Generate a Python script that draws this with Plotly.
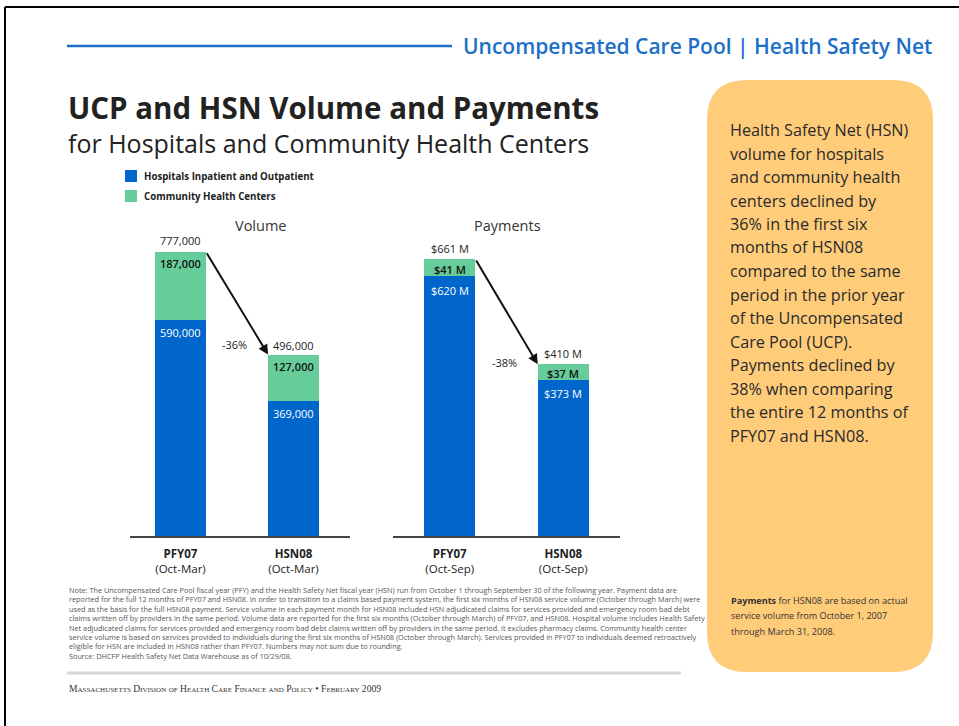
import plotly.graph_objects as go

# ---------------- data ----------------
periods_volume = ["<b>PFY07</b><br>(Oct-Mar)", "<b>HSN08</b><br>(Oct-Mar)"]
periods_payments = ["<b>PFY07</b><br>(Oct-Sep)", "<b>HSN08</b><br>(Oct-Sep)"]
volume_hospitals = [590000, 369000]
volume_chc = [187000, 127000]
volume_total = [777000, 496000]
payments_hospitals = [620, 373]   # $ millions
payments_chc = [41, 37]
payments_total = [661, 410]
series_names = ["Hospitals Inpatient and Outpatient", "Community Health Centers"]

BLUE = "#0066CC"
GREEN = "#66CC99"
ORANGE = "#FFCC7A"
HEADBLUE = "#1B6FC8"
DARK = "#222222"
FONT = "Open Sans"

W, H = 959, 726
def PX(x):
    return x / W
def PY(y):
    return 1 - y / H

fig = go.Figure()
xs = [0, 1]
BW = 0.45
fig.add_trace(go.Bar(x=xs, y=volume_hospitals, marker=dict(color=BLUE, line=dict(width=0)),
                     width=BW, name=series_names[0], xaxis="x", yaxis="y", showlegend=False))
fig.add_trace(go.Bar(x=xs, y=volume_chc, marker=dict(color=GREEN, line=dict(width=0)),
                     width=BW, name=series_names[1], xaxis="x", yaxis="y", showlegend=False))
fig.add_trace(go.Bar(x=xs, y=payments_hospitals, marker=dict(color=BLUE, line=dict(width=0)),
                     width=BW, name=series_names[0], xaxis="x2", yaxis="y2", showlegend=False))
fig.add_trace(go.Bar(x=xs, y=payments_chc, marker=dict(color=GREEN, line=dict(width=0)),
                     width=BW, name=series_names[1], xaxis="x2", yaxis="y2", showlegend=False))

ann = []
shapes = []

# --- bar labels ---
def seg_labels(xref, yref, hosp, chc, tot, fmt, yshift_tot, yshift_g, yshift_b):
    for i in range(2):
        ann.append(dict(x=xs[i], y=tot[i], xref=xref, yref=yref, text=fmt(tot[i]), showarrow=False,
                        yanchor="bottom", yshift=yshift_tot[i], font=dict(family=FONT, size=11, color=DARK)))
        ann.append(dict(x=xs[i], y=hosp[i] + chc[i], xref=xref, yref=yref, text=fmt(chc[i]), showarrow=False,
                        yanchor="top", yshift=yshift_g[i], font=dict(family=FONT, size=11, color="#111111", weight=600)))
        ann.append(dict(x=xs[i], y=hosp[i], xref=xref, yref=yref, text=fmt(hosp[i]), showarrow=False,
                        yanchor="top", yshift=yshift_b[i], font=dict(family=FONT, size=11, color="white")))

seg_labels("x", "y", volume_hospitals, volume_chc, volume_total, lambda v: f"{v:,}",
           [2, 0], [-2, -2], [-3, -3])
seg_labels("x2", "y2", payments_hospitals, payments_chc, payments_total, lambda v: f"${v} M",
           [1, 1], [-1, 0], [-5, -4])

# --- arrows and percentage change ---
def change_arrow(xref, yref, tot, xshift, yshift):
    ann.append(dict(x=xs[1] - BW / 2, y=tot[1], ax=xs[0] + BW / 2, ay=tot[0], xref=xref, yref=yref,
                    axref=xref, ayref=yref, text="", showarrow=True, arrowhead=2, arrowsize=1,
                    arrowwidth=2, arrowcolor="#111111", standoff=0, startstandoff=0))
    pct = round((tot[1] - tot[0]) / tot[0] * 100)
    ann.append(dict(x=0.5, y=tot[1], xref=xref, yref=yref, text=f"{pct}%", showarrow=False,
                    xshift=xshift, yshift=yshift, font=dict(family=FONT, size=11, color=DARK)))

change_arrow("x", "y", volume_total, -3, 10)
change_arrow("x2", "y2", payments_total, -2, 2)

# --- panel titles ---
ann.append(dict(x=PX(261), y=PY(226), xref="paper", yref="paper", xanchor="center", yanchor="middle",
                text="Volume", showarrow=False, font=dict(family=FONT, size=14.5, color="#333333")))
ann.append(dict(x=PX(507), y=PY(226), xref="paper", yref="paper", xanchor="center", yanchor="middle",
                text="Payments", showarrow=False, font=dict(family=FONT, size=14.5, color="#333333")))

# --- header ---
shapes.append(dict(type="line", xref="paper", yref="paper", x0=PX(67), x1=PX(452), y0=PY(46), y1=PY(46),
                   line=dict(color=HEADBLUE, width=2.5)))
ann.append(dict(x=PX(934), y=PY(46), xref="paper", yref="paper", xanchor="right", yanchor="middle",
                text="Uncompensated Care Pool | Health Safety Net", showarrow=False,
                font=dict(family=FONT, size=21, color=HEADBLUE, weight=600)))

# --- page border (left and top) ---
shapes.append(dict(type="line", xref="paper", yref="paper", x0=PX(5), x1=PX(5), y0=PY(7), y1=PY(726),
                   line=dict(color="black", width=2)))
shapes.append(dict(type="line", xref="paper", yref="paper", x0=PX(5), x1=PX(959), y0=PY(7), y1=PY(7),
                   line=dict(color="black", width=2)))

# --- title ---
ann.append(dict(x=PX(66), y=PY(107), xref="paper", yref="paper", xanchor="left", yanchor="middle",
                text="<b>UCP and HSN Volume and Payments</b>", showarrow=False,
                font=dict(family=FONT, size=29.5, color=DARK)))
ann.append(dict(x=PX(66), y=PY(143), xref="paper", yref="paper", xanchor="left", yanchor="middle",
                text="for Hospitals and Community Health Centers", showarrow=False,
                font=dict(family=FONT, size=25, color=DARK)))

# --- legend (manual) ---
for i, (col, name) in enumerate(zip([BLUE, GREEN], series_names)):
    yc = 176 + 20 * i
    shapes.append(dict(type="rect", xref="paper", yref="paper", x0=PX(125), x1=PX(137),
                       y0=PY(yc + 6), y1=PY(yc - 6), fillcolor=col, line=dict(width=0)))
    ann.append(dict(x=PX(142), y=PY(yc), xref="paper", yref="paper", xanchor="left", yanchor="middle",
                    text=f"<b>{name}</b>", showarrow=False, font=dict(family=FONT, size=9.7, color=DARK)))

# --- orange side box ---
x0, x1, y0, y1, r = 707, 933, 80, 672, 40
path = (f"M {PX(x0 + r)},{PY(y0)} L {PX(x1 - r)},{PY(y0)} Q {PX(x1)},{PY(y0)} {PX(x1)},{PY(y0 + r)} "
        f"L {PX(x1)},{PY(y1 - r)} Q {PX(x1)},{PY(y1)} {PX(x1 - r)},{PY(y1)} "
        f"L {PX(x0 + r)},{PY(y1)} Q {PX(x0)},{PY(y1)} {PX(x0)},{PY(y1 - r)} "
        f"L {PX(x0)},{PY(y0 + r)} Q {PX(x0)},{PY(y0)} {PX(x0 + r)},{PY(y0)} Z")
shapes.append(dict(type="path", xref="paper", yref="paper", path=path, fillcolor=ORANGE,
                   line=dict(width=0), layer="below"))

box_lines = [
    "Health Safety Net (HSN)",
    "volume for hospitals",
    "and community health",
    "centers declined by",
    "36% in the first six",
    "months of HSN08",
    "compared to the same",
    "period in the prior year",
    "of the Uncompensated",
    "Care Pool (UCP).",
    "Payments declined by",
    "38% when comparing",
    "the entire 12 months of",
    "PFY07 and HSN08.",
]
for i, t in enumerate(box_lines):
    ann.append(dict(x=PX(728), y=PY(130 + 23.5 * i), xref="paper", yref="paper", xanchor="left",
                    yanchor="middle", text=t, showarrow=False, font=dict(family=FONT, size=16.2, color="#2a2a2a")))

box_note = [
    "<b>Payments</b> for HSN08 are based on actual",
    "service volume from October 1, 2007",
    "through March 31, 2008.",
]
for i, t in enumerate(box_note):
    ann.append(dict(x=PX(729), y=PY(600 + 15.5 * i), xref="paper", yref="paper", xanchor="left",
                    yanchor="middle", text=t, showarrow=False, font=dict(family=FONT, size=9.1, color="#333333")))

# --- footnote ---
note_lines = [
    "Note: The Uncompensated Care Pool fiscal year (PFY) and the Health Safety Net fiscal year (HSN) run from October 1 through September 30 of the following year. Payment data are",
    "reported for the full 12 months of PFY07 and HSN08. In order to transition to a claims based payment system, the first six months of HSN08 service volume (October through March) were",
    "used as the basis for the full HSN08 payment. Service volume in each payment month for HSN08 included HSN adjudicated claims for services provided and emergency room bad debt",
    "claims written off by providers in the same period. Volume data are reported for the first six months (October through March) of PFY07, and HSN08. Hospital volume includes Health Safety",
    "Net adjudicated claims for services provided and emergency room bad debt claims written off by providers in the same period. It excludes pharmacy claims. Community health center",
    "service volume is based on services provided to individuals during the first six months of HSN08 (October through March). Services provided in PFY07 to individuals deemed retroactively",
    "eligible for HSN are included in HSN08 rather than PFY07. Numbers may not sum due to rounding.",
    "Source: DHCFP Health Safety Net Data Warehouse as of 10/29/08.",
]
for i, t in enumerate(note_lines):
    ann.append(dict(x=PX(67), y=PY(590 + 9.4 * i), xref="paper", yref="paper", xanchor="left",
                    yanchor="middle", text=t, showarrow=False, font=dict(family=FONT, size=7.3, color="#555555")))

shapes.append(dict(type="line", xref="paper", yref="paper", x0=PX(67), x1=PX(681), y0=PY(673), y1=PY(673),
                   line=dict(color="#D8D8D8", width=3)))

def small_caps(s, small=7):
    out = []
    for word in s.split(" "):
        if word in ("OF", "AND"):
            out.append(f"<span style='font-size:{small}px'>{word}</span>")
        elif word.isalpha() and len(word) > 1:
            out.append(word[0] + f"<span style='font-size:{small}px'>{word[1:]}</span>")
        else:
            out.append(word)
    return " ".join(out)

footer = small_caps("MASSACHUSETTS DIVISION OF HEALTH CARE FINANCE AND POLICY") + " • " + small_caps("FEBRUARY") + " 2009"
ann.append(dict(x=PX(67), y=PY(688), xref="paper", yref="paper", xanchor="left", yanchor="middle",
                text=footer, showarrow=False, font=dict(family="Liberation Serif", size=9.6, color="#333333")))

axis_common = dict(showgrid=False, zeroline=False, fixedrange=True)
fig.update_layout(
    width=W, height=H,
    margin=dict(l=0, r=0, t=0, b=0),
    paper_bgcolor="white", plot_bgcolor="rgba(0,0,0,0)",
    barmode="stack",
    showlegend=False,
    xaxis=dict(domain=[PX(130), PX(350)], range=[-0.447, 1.5], tickvals=xs, ticktext=periods_volume,
               showline=True, linecolor="#444444", linewidth=1.5, ticks="outside", ticklen=6,
               tickcolor="rgba(0,0,0,0)", tickfont=dict(family=FONT, size=11.5, color=DARK),
               anchor="y", **axis_common),
    yaxis=dict(domain=[PY(536), PY(246)], range=[0, 793000], visible=False, anchor="x", **axis_common),
    xaxis2=dict(domain=[PX(393), PX(620)], range=[-0.5, 1.5], tickvals=xs, ticktext=periods_payments,
                showline=True, linecolor="#444444", linewidth=1.5, ticks="outside", ticklen=6,
                tickcolor="rgba(0,0,0,0)", tickfont=dict(family=FONT, size=11.5, color=DARK),
                anchor="y2", **axis_common),
    yaxis2=dict(domain=[PY(536), PY(246)], range=[0, 692], visible=False, anchor="x2", **axis_common),
    annotations=ann,
    shapes=shapes,
)

fig.write_html("out.html", config={"displayModeBar": False},
               post_script="document.body.style.margin='0';")
